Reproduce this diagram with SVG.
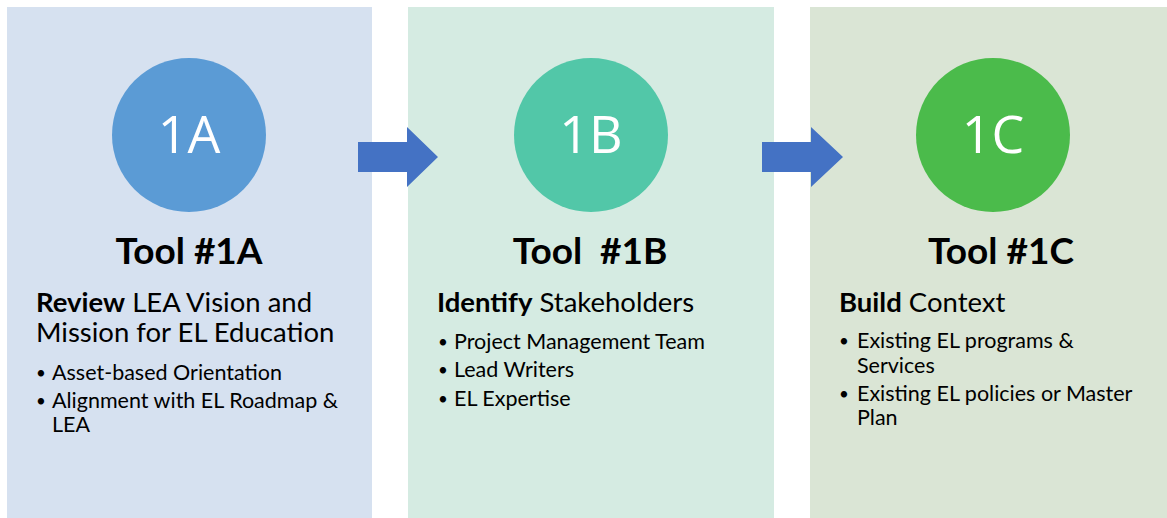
<svg xmlns="http://www.w3.org/2000/svg" width="1167" height="518" viewBox="0 0 1167 518">
<style>
.num{font-family:"Open Sans","Liberation Sans",sans-serif;font-size:52px;fill:#fff;text-anchor:middle}
.title{font-family:Lato,"Liberation Sans",sans-serif;font-weight:700;font-size:37px;fill:#000;text-anchor:middle}
.head{font-family:Lato,"Liberation Sans",sans-serif;font-size:27.5px;fill:#000}
.head .b{font-weight:700}
.bul{font-family:Lato,"Liberation Sans",sans-serif;font-size:21.5px;fill:#000}
.dot{font-family:Lato,"Liberation Sans",sans-serif;font-size:17px;fill:#000}
.arrow{fill:#4472C4}
</style>
<rect width="1167" height="518" fill="#fff"/>
<g id="node-1A">
<rect x="7" y="7" width="365" height="511" fill="#D6E1F0"/>
<circle cx="189" cy="135" r="77" fill="#5B9BD5"/>
<text class="num" x="189" y="153">1A</text>
<text class="title" x="189" y="264">Tool #1A</text>
<text class="head" x="36" y="312"><tspan class="b">Review</tspan> LEA Vision and</text>
<text class="head" x="36" y="342">Mission for EL Education</text>
<text class="dot" x="36" y="379">•</text>
<text class="bul" x="52" y="380">Asset-based Orientation</text>
<text class="dot" x="36" y="407">•</text>
<text class="bul" x="52" y="408">Alignment with EL Roadmap &amp;</text>
<text class="bul" x="52" y="432">LEA</text>
</g>
<g id="node-1B">
<rect x="408" y="7" width="366" height="511" fill="#D5EBE2"/>
<circle cx="591" cy="135" r="77" fill="#52C7A8"/>
<text class="num" x="591" y="153">1B</text>
<text class="title" x="590" y="264" xml:space="preserve">Tool  #1B</text>
<text class="head" x="437" y="312"><tspan class="b">Identify</tspan> Stakeholders</text>
<text class="dot" x="438" y="348">•</text>
<text class="bul" x="454" y="349">Project Management Team</text>
<text class="dot" x="438" y="376">•</text>
<text class="bul" x="454" y="377">Lead Writers</text>
<text class="dot" x="438" y="405">•</text>
<text class="bul" x="454" y="406">EL Expertise</text>
</g>
<g id="node-1C">
<rect x="810" y="7" width="357" height="511" fill="#DAE5D5"/>
<circle cx="993" cy="135" r="77" fill="#4BBB4B"/>
<text class="num" x="993" y="153">1C</text>
<text class="title" x="1001" y="264">Tool #1C</text>
<text class="head" x="839" y="312"><tspan class="b">Build</tspan> Context</text>
<text class="dot" x="839" y="347">•</text>
<text class="bul" x="857" y="348">Existing EL programs &amp;</text>
<text class="bul" x="857" y="373">Services</text>
<text class="dot" x="839" y="400">•</text>
<text class="bul" x="857" y="401">Existing EL policies or Master</text>
<text class="bul" x="857" y="425">Plan</text>
</g>
<g id="connectors">
<polygon class="arrow" points="358,142 407,142 407,127 438,157 407,187 407,172 358,172"/>
<polygon class="arrow" points="762,142 811,142 811,127 843,157 811,187 811,172 762,172"/>
</g>
</svg>
